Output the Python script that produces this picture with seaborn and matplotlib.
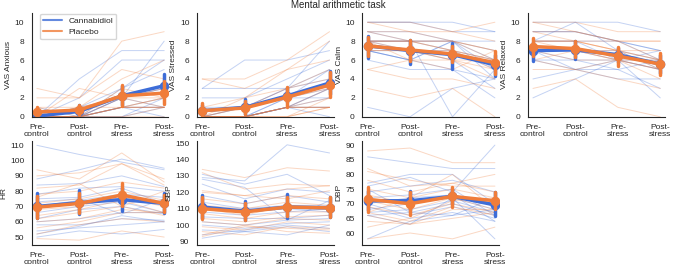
import numpy as np
import pandas as pd
import matplotlib
matplotlib.use("Agg")
import matplotlib.pyplot as plt
import seaborn as sns
from matplotlib.lines import Line2D

# --- data: one row per subject, columns = Pre-control, Post-control, Pre-stress, Post-stress
times = ["Pre-\ncontrol", "Post-\ncontrol", "Pre-\nstress", "Post-\nstress"]
groups = ["Cannabidiol", "Placebo"]

anxious_cbd = [[0, 4, 7, 7], [0, 0, 2, 8], [0, 2, 6, 6], [0, 0, 1, 2], [1, 0, 3, 5], [0, 0, 0, 1], [0, 1, 2, 3],
               [0, 0, 1, 0], [0, 1, 3, 6], [0, 0, 0, 2], [0, 0, 1, 1], [0, 0, 2, 3], [0, 0, 2, 1], [0, 0, 1, 1]]
anxious_pla = [[3, 2, 8, 9], [2, 2, 5, 4], [0, 0, 3, 2], [1, 1, 4, 6], [0, 3, 2, 1], [0, 0, 1, 2], [1, 0, 0, 0],
               [0, 1, 2, 3], [0, 0, 1, 1], [0, 0, 2, 2], [0, 1, 1, 1], [0, 0, 1, 2], [0, 0, 1, 1], [0, 0, 0, 1]]

stressed_cbd = [[3, 6, 6, 7], [3, 3, 3, 8], [2, 2, 4, 6], [0, 0, 2, 5], [1, 1, 3, 4], [0, 0, 1, 1], [0, 0, 2, 3],
                [0, 1, 2, 2], [0, 0, 1, 0], [0, 1, 3, 5], [0, 0, 1, 2], [0, 0, 1, 3], [0, 0, 1, 1], [0, 0, 1, 3]]
stressed_pla = [[4, 4, 6, 9], [4, 3, 5, 8], [1, 2, 5, 6], [0, 1, 3, 5], [0, 0, 1, 2], [0, 2, 3, 4], [0, 0, 0, 1],
                [0, 1, 2, 3], [0, 0, 1, 1], [0, 0, 0, 2], [0, 0, 1, 1], [0, 0, 1, 3], [0, 0, 1, 1], [0, 0, 0, 1]]

calm_cbd = [[10, 10, 10, 9], [10, 10, 9, 9], [9, 9, 8, 8], [8, 8, 8, 7], [8, 7, 7, 6], [1, 0, 3, 4], [6, 5, 5, 2],
            [8, 8, 7, 5], [7, 7, 6, 3], [9, 8, 8, 6], [7, 6, 5, 4], [8, 8, 0, 5], [7, 6, 8, 4], [7, 6, 8, 5]]
calm_pla = [[10, 10, 9, 10], [9, 9, 9, 8], [10, 9, 8, 7], [8, 8, 8, 7], [3, 2, 3, 0], [5, 4, 4, 3], [8, 8, 7, 6],
            [9, 8, 8, 6], [7, 7, 6, 5], [8, 8, 7, 6], [7, 7, 7, 5], [5, 6, 6, 4], [8, 7, 6, 6], [8, 6, 5, 7]]

relaxed_cbd = [[10, 10, 10, 9], [2, 4, 6, 7], [9, 9, 8, 6], [8, 10, 7, 5], [7, 7, 7, 6], [4, 5, 5, 3], [8, 8, 8, 7],
               [6, 6, 6, 2], [9, 9, 8, 7], [8, 8, 6, 6], [7, 7, 6, 5], [6, 5, 4, 4], [7, 5, 6, 5], [7, 6, 5, 6]]
relaxed_pla = [[10, 10, 9, 9], [9, 9, 8, 8], [3, 4, 1, 0], [8, 8, 7, 6], [5, 5, 4, 3], [10, 9, 8, 6], [8, 8, 7, 7],
               [7, 7, 7, 6], [8, 8, 7, 5], [6, 7, 6, 6], [9, 8, 8, 8], [7, 6, 6, 5], [8, 7, 6, 4], [6, 5, 6, 5]]

hr_cbd = [[110, 104, 99, 94], [88, 94, 101, 95], [84, 85, 90, 83], [78, 82, 83, 80], [75, 76, 82, 72],
          [70, 74, 78, 76], [66, 70, 73, 66], [62, 68, 70, 65], [60, 62, 66, 66], [58, 58, 62, 61],
          [54, 56, 58, 60], [52, 57, 64, 60], [50, 54, 52, 55], [73, 75, 65, 75]]
hr_pla = [[94, 88, 105, 86], [90, 92, 98, 84], [82, 84, 98, 88], [78, 80, 86, 82], [72, 75, 80, 74],
          [70, 72, 76, 70], [68, 70, 78, 72], [64, 68, 74, 66], [62, 66, 70, 64], [60, 62, 68, 66],
          [56, 60, 66, 66], [52, 58, 62, 60], [49, 48, 54, 50], [76, 85, 70, 80]]

sbp_cbd = [[129, 127, 149, 144], [131, 125, 131, 118], [125, 116, 122, 120], [118, 113, 118, 114],
           [114, 110, 112, 112], [111, 108, 110, 108], [108, 106, 108, 110], [105, 104, 104, 106],
           [102, 100, 103, 104], [100, 98, 101, 102], [97, 96, 99, 96], [94, 97, 100, 98],
           [92, 96, 94, 100], [128, 123, 103, 115]]
sbp_pla = [[134, 129, 135, 133], [132, 122, 125, 124], [120, 118, 122, 124], [116, 113, 118, 116],
           [112, 110, 114, 112], [110, 106, 112, 110], [107, 104, 108, 108], [104, 102, 105, 106],
           [102, 100, 104, 103], [99, 97, 102, 100], [96, 94, 99, 98], [94, 100, 96, 95],
           [93, 99, 98, 97], [121, 118, 116, 121]]

dbp_cbd = [[86, 84, 82, 82], [77, 80, 80, 70], [76, 79, 74, 90], [74, 76, 78, 74], [72, 73, 75, 66],
           [70, 72, 73, 64], [68, 70, 72, 68], [67, 68, 71, 67], [66, 67, 70, 66], [70, 66, 69, 65],
           [69, 65, 67, 64], [58, 64, 66, 68], [66, 63, 72, 58], [75, 67, 66, 72]]
dbp_pla = [[88, 89, 84, 84], [82, 76, 77, 80], [81, 78, 76, 76], [78, 74, 77, 74], [75, 72, 75, 72],
           [73, 70, 73, 70], [71, 68, 72, 68], [69, 66, 70, 67], [67, 64, 69, 66], [66, 63, 68, 68],
           [64, 63, 65, 67], [58, 60, 58, 62], [62, 65, 71, 72], [67, 72, 80, 68]]

panels = [
    ("VAS Anxious", anxious_cbd, anxious_pla, (0, 11), range(0, 11, 2)),
    ("VAS Stressed", stressed_cbd, stressed_pla, (0, 11), range(0, 11, 2)),
    ("VAS Calm", calm_cbd, calm_pla, (0, 11), range(0, 11, 2)),
    ("VAS Relaxed", relaxed_cbd, relaxed_pla, (0, 11), range(0, 11, 2)),
    ("HR", hr_cbd, hr_pla, (45, 113), range(50, 111, 10)),
    ("SBP", sbp_cbd, sbp_pla, (88, 151.5), range(90, 151, 10)),
    ("DBP", dbp_cbd, dbp_pla, (56, 91.5), range(60, 91, 5)),
]

palette = {"Cannabidiol": "#3d6dd8", "Placebo": "#f07d3a"}


def to_long(cbd, pla):
    rows = []
    for grp, subj_list in zip(groups, [cbd, pla]):
        for s, vals in enumerate(subj_list):
            for t, v in enumerate(vals):
                rows.append({"subject": f"{grp}_{s}", "group": grp, "t": t, "value": v})
    return pd.DataFrame(rows)


sns.set_style("white")
plt.rcParams["font.family"] = ["Liberation Sans", "DejaVu Sans"]
plt.rcParams["font.size"] = 6

fig, axes = plt.subplots(2, 4, figsize=(6.76, 2.66), dpi=100)
fig.subplots_adjust(left=0.047, right=0.983, top=0.952, bottom=0.08, wspace=0.21, hspace=0.23)

for ax, (label, cbd, pla, ylim, yticks) in zip(axes.flat, panels):
    df = to_long(cbd, pla)
    # individual subjects
    sns.lineplot(data=df, x="t", y="value", hue="group", units="subject", estimator=None,
                 palette=palette, hue_order=groups, lw=0.7, alpha=0.3, legend=False, ax=ax)
    # group means with 95% CI
    sns.pointplot(data=df, x="t", y="value", hue="group", hue_order=groups, palette=palette,
                  errorbar=("ci", 95), seed=1, dodge=False, markersize=5, linewidth=2.5,
                  err_kws={"linewidth": 2.5}, legend=False, ax=ax)
    ax.set_xlim(-0.12, 3.1)
    ax.set_ylim(*ylim)
    ax.set_yticks(list(yticks))
    ax.set_xticks(range(4))
    ax.set_xticklabels(times, fontsize=6, linespacing=1.0)
    ax.tick_params(axis="y", labelsize=6, pad=2)
    ax.tick_params(axis="x", pad=2)
    ax.set_xlabel("")
    ax.set_ylabel(label, fontsize=6, labelpad=2)
    sns.despine(ax=ax)

axes.flat[-1].set_visible(False)

handles = [Line2D([], [], color=palette[g], lw=1.5, alpha=0.8) for g in groups]
axes[0, 0].legend(handles, groups, loc="upper left", fontsize=6, frameon=True,
                  bbox_to_anchor=(0.03, 1.03), handlelength=2.2, borderpad=0.4,
                  labelspacing=0.4)

fig.suptitle("Mental arithmetic task", fontsize=7, y=1.0)

fig.savefig("out.png", dpi=100)
